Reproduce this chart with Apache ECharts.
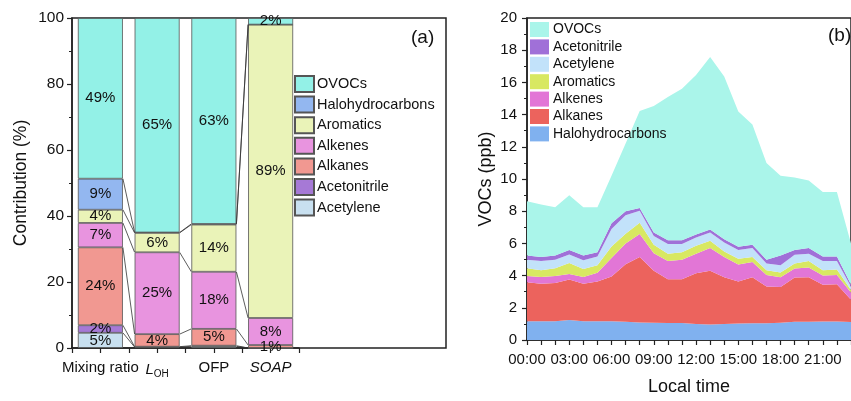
<!DOCTYPE html>
<html>
<head>
<meta charset="utf-8">
<script src="https://cdn.jsdelivr.net/npm/echarts@6/dist/echarts.min.js"></script>
<style>
  html, body { margin: 0; padding: 0; background: #fff; }
  #chart { width: 851px; height: 401px; }
</style>
</head>
<body>
<div id="chart"></div>
<script>
// ---- panel (a): contribution of each group (%), bottom -> top ----
const categories = ['Mixing ratio', 'L_OH', 'OFP', 'SOAP']
const groupsA = ['Acetylene', 'Acetonitrile', 'Alkanes', 'Alkenes', 'Aromatics', 'Halohydrocarbons', 'OVOCs']
const acetyleneA = [4.6, 0.3, 0.5, 0]
const acetonitrileA = [2.3, 0.1, 0.2, 0]
const alkanesA = [23.6, 3.8, 5.1, 0.9]
const alkenesA = [7.4, 24.8, 17.3, 8.2]
const aromaticsA = [4.0, 5.9, 14.3, 88.9]
const haloA = [9.4, 0.1, 0.2, 0]
const ovocsA = [48.7, 65.0, 62.4, 2.0]
// printed labels inside the bars ('' = not printed)
const labelsA = [
  ['5%', '', '', ''],
  ['2%', '', '', ''],
  ['24%', '4%', '5%', '1%'],
  ['7%', '25%', '18%', '8%'],
  ['4%', '6%', '14%', '89%'],
  ['9%', '', '', ''],
  ['49%', '65%', '63%', '2%']
]
const colorsA = ['#c8e0f0', '#a679d6', '#f19891', '#e894df', '#eaf3b8', '#93b7f0', '#93f1e7']

// ---- panel (b): diurnal VOCs (ppb), bottom -> top ----
const hours = ['00', '01', '02', '03', '04', '05', '06', '07', '08', '09', '10', '11',
  '12', '13', '14', '15', '16', '17', '18', '19', '20', '21', '22', '23']
const groupsB = ['Halohydrocarbons', 'Alkanes', 'Alkenes', 'Aromatics', 'Acetylene', 'Acetonitrile', 'OVOCs']
const haloB = [1.17, 1.17, 1.17, 1.25, 1.17, 1.17, 1.17, 1.13, 1.09, 1.07, 1.05, 1.05, 1.00, 0.97, 1.00, 1.02, 1.04, 1.04, 1.07, 1.13, 1.13, 1.15, 1.15, 1.12]
const alkanesB = [2.41, 2.33, 2.37, 2.51, 2.33, 2.46, 2.77, 3.57, 4.06, 3.23, 2.73, 2.73, 3.14, 3.33, 2.90, 2.61, 2.86, 2.29, 2.22, 2.75, 2.77, 2.28, 2.32, 1.38]
const alkenesB = [0.40, 0.42, 0.44, 0.34, 0.42, 0.55, 1.16, 1.30, 1.43, 1.09, 1.13, 1.21, 1.21, 1.42, 1.25, 1.06, 0.95, 0.71, 0.61, 0.56, 0.60, 0.57, 0.57, 0.45]
const aromaticsB = [0.47, 0.42, 0.47, 0.69, 0.49, 0.46, 0.70, 0.60, 0.70, 0.53, 0.44, 0.46, 0.50, 0.44, 0.34, 0.36, 0.30, 0.30, 0.30, 0.31, 0.41, 0.34, 0.34, 0.15]
const acetyleneB = [0.54, 0.57, 0.54, 0.52, 0.54, 0.55, 1.10, 1.15, 0.75, 0.54, 0.61, 0.51, 0.51, 0.51, 0.57, 0.54, 0.57, 0.41, 0.44, 0.54, 0.44, 0.57, 0.53, 0.20]
const acetonitrileB = [0.26, 0.24, 0.26, 0.28, 0.30, 0.26, 0.35, 0.25, 0.17, 0.21, 0.24, 0.24, 0.20, 0.20, 0.20, 0.20, 0.20, 0.24, 0.61, 0.30, 0.37, 0.28, 0.28, 0.15]
const ovocsB = [3.37, 3.27, 3.00, 3.40, 3.00, 2.80, 2.95, 4.20, 6.02, 7.87, 8.89, 9.40, 9.90, 10.70, 10.10, 8.41, 7.47, 6.01, 4.95, 4.51, 4.18, 4.00, 4.00, 2.55]
const colorsB = ['#80b1ef', '#ec635d', '#e276d6', '#d8e862', '#c2e2fa', '#a070d8', '#aaf5ea']

const FONT = 'Liberation Sans, Arial, sans-serif'
const AXIS_COLOR = '#222'

const seriesA = [acetyleneA, acetonitrileA, alkanesA, alkenesA, aromaticsA, haloA, ovocsA]
const seriesB = [haloB, alkanesB, alkenesB, aromaticsB, acetyleneB, acetonitrileB, ovocsB]

// half bar width in category units (bar 45px, category step ~56.7px)
const HALF = 0.397

/* connecting lines between neighbouring bars, from the stacked boundaries */
function buildLinks() {
  const cum = categories.map((c, i) => {
    let s = 0
    return seriesA.map(arr => (s += arr[i]))
  })
  const links = []
  for (let i = 0; i < categories.length - 1; i++) {
    for (let k = 0; k < groupsA.length - 1; k++) {
      links.push({ coords: [[i + 1 + HALF, cum[i][k]], [i + 2 - HALF, cum[i + 1][k]]] })
    }
  }
  return links
}

const chart = echarts.init(document.getElementById('chart'))

const axisLine = { show: true, onZero: false, lineStyle: { color: AXIS_COLOR, width: 1.5 } }
const axisTick = { show: true, length: 5, lineStyle: { color: AXIS_COLOR, width: 1.2 } }
const minorTick = { show: true, splitNumber: 2, length: 3, lineStyle: { color: AXIS_COLOR, width: 1 } }
const labelStyle = { color: '#111', fontFamily: FONT, fontSize: 15 }

chart.setOption({
  animation: false,
  textStyle: { fontFamily: FONT },
  grid: [
    // 0: bars of panel (a), categories 0.5 .. 4.5
    { left: 72, top: 18, width: 227, height: 330 },
    // 1: panel (b)
    { left: 527, top: 18, width: 332, height: 330, show: true, borderColor: AXIS_COLOR, borderWidth: 1.5 },
    // 2: frame of panel (a)
    { left: 72, top: 18, width: 374, height: 330, show: true, borderColor: AXIS_COLOR, borderWidth: 1.5 }
  ],
  title: [
    { text: '(a)', left: 411, top: 28, padding: 0, textStyle: { fontSize: 19, fontWeight: 'normal', color: '#111', fontFamily: FONT } },
    { text: '(b)', left: 828, top: 26, padding: 0, textStyle: { fontSize: 19, fontWeight: 'normal', color: '#111', fontFamily: FONT } }
  ],
  legend: [
    {
      // panel (a) legend, top item first
      data: groupsA.slice().reverse(),
      left: 294,
      top: 75,
      padding: 0,
      orient: 'vertical',
      icon: 'rect',
      itemWidth: 19,
      itemHeight: 16,
      itemGap: 2.6,
      textStyle: { fontSize: 14.5, color: '#111', fontFamily: FONT, padding: [0, 0, 0, -2] },
      selectedMode: false
    },
    {
      // panel (b) legend
      data: groupsB.slice().reverse().map(n => 'b:' + n),
      formatter: n => n.replace('b:', ''),
      left: 530,
      top: 22,
      padding: 0,
      orient: 'vertical',
      icon: 'rect',
      itemWidth: 19,
      itemHeight: 15,
      itemGap: 2.4,
      itemStyle: { borderWidth: 0 },
      textStyle: { fontSize: 14, color: '#111', fontFamily: FONT, padding: [0, 0, 0, -1] },
      selectedMode: false
    }
  ],
  xAxis: [
    {
      // 0: category labels of panel (a)
      gridIndex: 0,
      type: 'category',
      position: 'bottom',
      data: categories,
      axisLine: { show: false },
      axisTick: { show: false },
      axisLabel: {
        ...labelStyle,
        margin: 12,
        interval: 0,
        formatter: name => {
          if (name === 'L_OH') return '{i|L}{sub|OH}'
          if (name === 'SOAP') return '{i|SOAP}'
          return name
        },
        rich: {
          i: { fontStyle: 'italic', fontSize: 15, fontFamily: FONT, color: '#111' },
          sub: { fontSize: 10, fontFamily: FONT, color: '#111', padding: [9, 0, 0, 0] }
        }
      }
    },
    {
      // 1: ticks of panel (a), also used by the joining lines
      gridIndex: 0,
      type: 'value',
      position: 'bottom',
      min: 0.5,
      max: 4.5,
      interval: 0.5,
      axisLine,
      axisTick,
      axisLabel: { show: false },
      splitLine: { show: false }
    },
    {
      // 2: panel (b) time axis
      gridIndex: 1,
      type: 'category',
      data: hours,
      boundaryGap: false,
      axisLine,
      axisTick: { ...axisTick, interval: 0 },
      axisLabel: {
        ...labelStyle,
        margin: 12,
        interval: 2,
        formatter: h => h + ':00'
      },
      name: 'Local time',
      nameLocation: 'middle',
      nameGap: 38,
      nameTextStyle: { fontSize: 18, color: '#111', fontFamily: FONT }
    },
    { gridIndex: 2, type: 'value', show: false }
  ],
  yAxis: [
    {
      gridIndex: 0,
      type: 'value',
      min: 0,
      max: 100,
      interval: 20,
      axisLine,
      axisTick,
      minorTick,
      splitLine: { show: false },
      axisLabel: { ...labelStyle, fontSize: 15.5, margin: 8 },
      name: 'Contribution (%)',
      nameLocation: 'middle',
      nameGap: 42,
      nameTextStyle: { fontSize: 17.5, color: '#111', fontFamily: FONT }
    },
    {
      gridIndex: 1,
      type: 'value',
      min: 0,
      max: 20,
      interval: 2,
      axisLine,
      axisTick,
      minorTick,
      splitLine: { show: false },
      axisLabel: { ...labelStyle, margin: 10 },
      name: 'VOCs (ppb)',
      nameLocation: 'middle',
      nameGap: 32,
      nameTextStyle: { fontSize: 18, color: '#111', fontFamily: FONT }
    },
    { gridIndex: 2, type: 'value', show: false }
  ],
  series: [
    // stacked bars, panel (a)
    ...groupsA.map((name, si) => ({
      name,
      type: 'bar',
      xAxisIndex: 0,
      yAxisIndex: 0,
      stack: 'a',
      barWidth: 45,
      data: seriesA[si],
      itemStyle: { color: colorsA[si], borderColor: '#555', borderWidth: 0.8 },
      label: {
        show: true,
        position: 'inside',
        color: '#111',
        fontSize: 15,
        fontFamily: FONT,
        formatter: p => labelsA[si][p.dataIndex]
      },
      silent: true
    })),
    // thin lines joining the layer boundaries of neighbouring bars
    {
      type: 'lines',
      coordinateSystem: 'cartesian2d',
      xAxisIndex: 1,
      yAxisIndex: 0,
      data: buildLinks(),
      lineStyle: { color: '#333', width: 0.8, opacity: 1 },
      silent: true,
      z: 3
    },
    // stacked areas, panel (b)
    ...groupsB.map((name, si) => ({
      name: 'b:' + name,
      type: 'line',
      xAxisIndex: 2,
      yAxisIndex: 1,
      stack: 'b',
      symbol: 'none',
      data: seriesB[si],
      lineStyle: { width: 0 },
      itemStyle: { color: colorsB[si] },
      areaStyle: { color: colorsB[si], opacity: 1 },
      silent: true
    }))
  ]
})
</script>
</body>
</html>
